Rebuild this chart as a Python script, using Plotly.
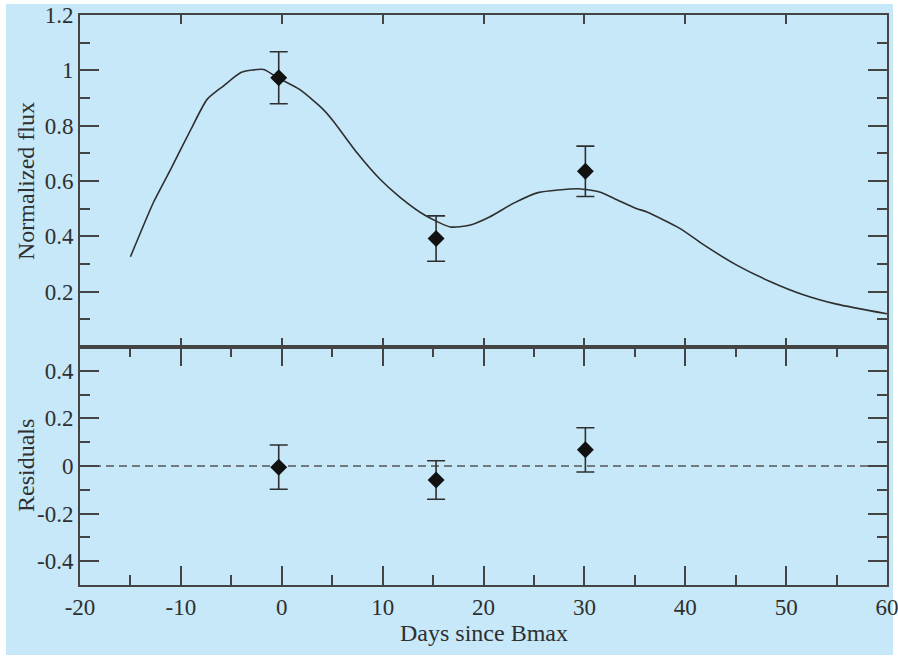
import plotly.graph_objects as go

# Model curve (normalized flux)
curve_days = [-15, -12.7, -11, -9, -7.4, -5.8, -4, -1.8, -0.4, 1.8, 4.1, 5.1, 7.5, 9.7, 11.7,
              14.2, 16.7, 18.6, 20.6, 23, 25.4, 29.4, 31.5, 33, 35.2, 36.2, 39.5, 41.8,
              45.1, 48.4, 51.7, 55, 60]
curve_flux = [0.326, 0.524, 0.643, 0.787, 0.895, 0.943, 0.993, 1.003, 0.973, 0.93, 0.859,
              0.817, 0.70, 0.608, 0.542, 0.476, 0.434, 0.44, 0.47, 0.52, 0.558, 0.572, 0.560,
              0.536, 0.50, 0.488, 0.428, 0.37, 0.296, 0.237, 0.189, 0.155, 0.12]

# Observations
obs_days = [-0.3, 15.3, 30.1]
obs_flux = [0.973, 0.392, 0.635]
obs_err = [0.094, 0.082, 0.091]

# Residuals
res_vals = [-0.005, -0.059, 0.068]
res_err = [0.093, 0.081, 0.093]

x_ticks = [-20, -10, 0, 10, 20, 30, 40, 50, 60]
x_ticktext = ["-20", "-10", "0", "10", "20", "30", "40", "50", "60"]
top_ticks = [0.2, 0.4, 0.6, 0.8, 1.0, 1.2]
top_ticktext = ["0.2", "0.4", "0.6", "0.8", "1", "1.2"]
top_minor = [0.1, 0.3, 0.5, 0.7, 0.9, 1.1]
bot_ticks = [-0.4, -0.2, 0, 0.2, 0.4]
bot_ticktext = ["-0.4", "-0.2", "0", "0.2", "0.4"]
bot_minor = [-0.3, -0.1, 0.1, 0.3]

BLUE = "rgb(198,232,248)"
INK = "#2f2f2f"
AX = "#444444"
FONT = "Liberation Serif"

fig = go.Figure()

fig.add_trace(go.Scatter(x=curve_days, y=curve_flux, mode="lines",
                         line=dict(color=INK, width=1.6, shape="spline", smoothing=0.6),
                         xaxis="x", yaxis="y", showlegend=False, hoverinfo="skip"))
fig.add_trace(go.Scatter(x=obs_days, y=obs_flux, mode="markers",
                         marker=dict(symbol="diamond", size=13, color="#111"),
                         error_y=dict(type="data", array=obs_err, color=INK, thickness=1.6, width=9),
                         xaxis="x", yaxis="y", showlegend=False))

fig.add_trace(go.Scatter(x=[-20, 60], y=[0, 0], mode="lines",
                         line=dict(color="#555", width=1.6, dash="8px,5px"),
                         xaxis="x2", yaxis="y2", showlegend=False, hoverinfo="skip"))
fig.add_trace(go.Scatter(x=obs_days, y=res_vals, mode="markers",
                         marker=dict(symbol="diamond", size=13, color="#111"),
                         error_y=dict(type="data", array=res_err, color=INK, thickness=1.6, width=9),
                         xaxis="x2", yaxis="y2", showlegend=False))

split = (585 - 347) / 570.0

common_axis = dict(showline=True, linecolor=AX, linewidth=1.8, mirror="ticks",
                   showgrid=False, zeroline=False, ticks="inside", tickcolor=AX,
                   tickwidth=1.8, automargin=False, ticklabeloverflow="allow",
                   tickfont=dict(family=FONT, size=23, color=INK))

fig.update_layout(
    width=898, height=669,
    margin=dict(l=80, r=11, t=15, b=84),
    paper_bgcolor="white",
    plot_bgcolor=BLUE,
    font=dict(family=FONT, color=INK),
    xaxis=dict(common_axis, domain=[0, 1], range=[-20, 60], anchor="y",
               tickvals=x_ticks, showticklabels=False, ticklen=9),
    yaxis=dict(common_axis, domain=[split, 1], range=[0, 1.2], anchor="x",
               tickvals=top_ticks, ticktext=top_ticktext, ticklen=19,
               minor=dict(tickvals=top_minor, ticks="inside", ticklen=10,
                          tickcolor=AX, tickwidth=1.8, showgrid=False)),
    xaxis2=dict(common_axis, domain=[0, 1], range=[-20, 60], anchor="y2",
                tickvals=x_ticks, ticktext=x_ticktext, ticklen=19,
                minor=dict(dtick=5, tick0=0, ticks="inside", ticklen=10,
                           tickcolor=AX, tickwidth=1.8, showgrid=False)),
    yaxis2=dict(common_axis, domain=[0, split], range=[-0.5, 0.5], anchor="x2",
                tickvals=bot_ticks, ticktext=bot_ticktext, ticklen=19,
                minor=dict(tickvals=bot_minor, ticks="inside", ticklen=10,
                           tickcolor=AX, tickwidth=1.8, showgrid=False)),
    shapes=[dict(type="rect", xref="paper", yref="paper", layer="below",
                 x0=(6 - 80) / 807, x1=(893 - 80) / 807,
                 y0=(585 - 655) / 570, y1=(585 - 4) / 570,
                 fillcolor=BLUE, line=dict(width=0))],
    annotations=[
        dict(text="Normalized flux", xref="paper", yref="paper", x=(26 - 80) / 807,
             y=(585 - 181) / 570, textangle=-90, showarrow=False, xanchor="center",
             yanchor="middle", font=dict(family=FONT, size=24, color=INK)),
        dict(text="Residuals", xref="paper", yref="paper", x=(26 - 80) / 807,
             y=(585 - 466) / 570, textangle=-90, showarrow=False, xanchor="center",
             yanchor="middle", font=dict(family=FONT, size=24, color=INK)),
        dict(text="Days since Bmax", xref="paper", yref="paper", x=0.5,
             y=(585 - 633) / 570, showarrow=False, xanchor="center",
             yanchor="middle", font=dict(family=FONT, size=24, color=INK)),
    ],
)

fig.write_html("out.html")
